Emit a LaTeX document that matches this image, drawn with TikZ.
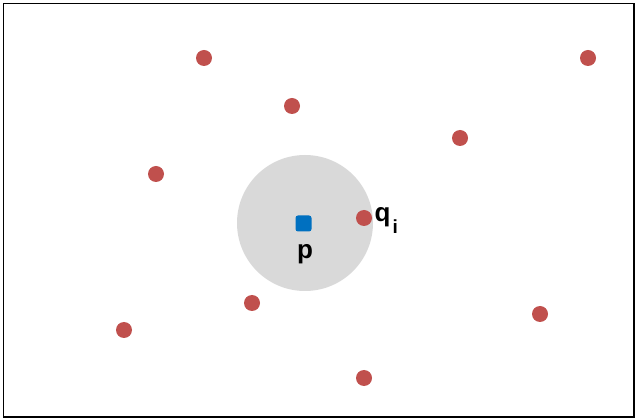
\documentclass[tikz,border=0pt]{standalone}
\usepackage{fontspec}
\setmainfont{Liberation Sans}
\definecolor{dotred}{HTML}{C0504D}
\definecolor{pblue}{HTML}{0070C0}
\definecolor{disk}{HTML}{D9D9D9}
\begin{document}
\begin{tikzpicture}[x=1pt,y=-1pt,
  pt/.style={circle,fill=dotred,inner sep=0pt,minimum size=16pt},
  lbl/.style={font=\fontsize{26}{30}\selectfont\bfseries,inner sep=0pt}]
\useasboundingbox (0,0) rectangle (637,419);
\draw[line width=1.5pt] (3.5,3.5) rectangle (634,417);
\fill[disk] (305,223) circle (68);
\node[fill=pblue,rounded corners=2.5pt,minimum size=16pt,inner sep=0pt] (p) at (303.5,223.5) {};
\node[lbl,anchor=base] (plabel) at (305,258.5) {p};
\node[pt] (q1) at (204,58) {};
\node[pt] (q2) at (588,58) {};
\node[pt] (q3) at (292,106) {};
\node[pt] (q4) at (460,138) {};
\node[pt] (q5) at (156,174) {};
\node[pt] (qi) at (364,218) {};
\node[pt] (q7) at (252,303) {};
\node[pt] (q8) at (124,330) {};
\node[pt] (q9) at (540,314) {};
\node[pt] (q10) at (364,378) {};
\node[lbl,anchor=base west] (qlabel) at (374.5,221.5) {q\kern2pt\raisebox{-12.5pt}{\fontsize{19}{21}\selectfont i}};
\end{tikzpicture}
\end{document}
